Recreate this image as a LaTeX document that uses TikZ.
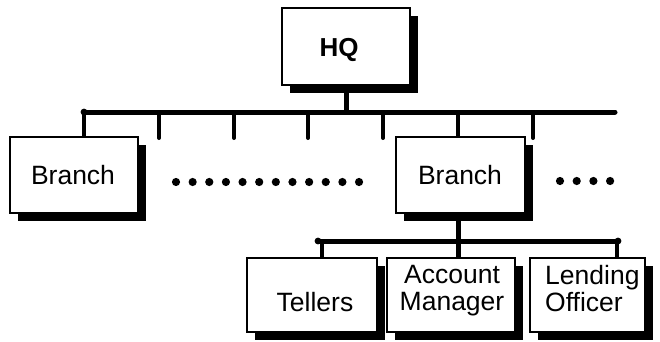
\documentclass[tikz,border=0pt]{standalone}
\usepackage{fontspec}
\setmainfont{Liberation Sans}
\usetikzlibrary{shadows}
\begin{document}
\begin{tikzpicture}[x=1pt,y=-1pt,
  box/.style={draw, line width=2.7pt, fill=white, inner sep=0pt,
    minimum height=75pt,
    drop shadow={shadow xshift=8pt, shadow yshift=-8pt, fill=black, opacity=1}},
  lbl/.style={inner sep=0pt, font=\fontsize{26.5}{27}\selectfont},
  bus/.style={line width=5pt, line cap=round},
  drop/.style={line width=4pt, line cap=round},
  stem/.style={line width=5pt},
  enddot/.style={fill=black},
  ellipsis/.style={fill=black}
]
\useasboundingbox (0,0) rectangle (660,342);

% head office
\node[box, minimum width=128pt, minimum height=77pt] (hq) at (346,46.5) {};
\node[lbl, font=\fontsize{26}{27}\selectfont\bfseries] (hqt) at (339,50) {HQ};

% top-level bus and its taps
\coordinate (busL) at (84,112);
\coordinate (busR) at (615,112);
\coordinate (hqb) at (346,112);
\draw[stem] (hq.south -| hqb) -- (hqb);
\draw[bus] (busL) -- (busR);
\fill[enddot] (busL) circle (3.4pt);
\foreach \x/\n in {159/t2,234/t3,308/t4,383/t5,533/t7}{
  \coordinate (\n a) at (\x,112);
  \coordinate (\n b) at (\x,138);
  \draw[drop] (\n a) -- (\n b);
}

% branches
\node[box, minimum width=128pt, minimum height=76pt] (brL) at (74,175) {};
\node[lbl] (brLt) at (73,175) {Branch};
\node[box, minimum width=129pt, minimum height=76pt] (brM) at (460.5,175) {};
\node[lbl] (brMt) at (460,175) {Branch};
\coordinate (t6a) at (458,112);
\draw[drop] (busL) -- (brL.north -| busL);
\draw[drop] (t6a) -- (brM.north -| t6a);

% elided branches
\foreach \i in {0,...,11} \fill[ellipsis] (176+\i*16.64,182) circle (4.1pt);
\foreach \i in {0,...,3} \fill[ellipsis] (560+\i*16.7,181) circle (4.1pt);

% departments of a branch
\node[box, minimum width=130pt, minimum height=74pt] (tel) at (312,295) {};
\node[box, minimum width=128pt, minimum height=74pt] (acc) at (451,295) {};
\node[box, minimum width=115pt, minimum height=74pt] (len) at (587.5,295) {};
\node[lbl, anchor=north] (telt) at (315,292) {Tellers};
\node[lbl, anchor=north, align=center] (acct) at (452,265) {Account\\Manager};
\node[lbl, anchor=north west, align=left] (lent) at (545,265) {Lending\\Officer};

% branch-level bus
\coordinate (sbL) at (318,241);
\coordinate (sbR) at (618,241);
\coordinate (sbM) at (458,241);
\draw[stem] (brM.south -| sbM) -- (acc.north -| sbM);
\draw[bus] (sbL) -- (sbR);
\fill[enddot] (sbL) circle (3.4pt);
\fill[enddot] (sbR) circle (3.4pt);
\coordinate (sd1) at (322,241);
\coordinate (sd3) at (617,241);
\draw[drop] (sd1) -- (tel.north -| sd1);
\draw[drop] (sd3) -- (len.north -| sd3);
\end{tikzpicture}
\end{document}
